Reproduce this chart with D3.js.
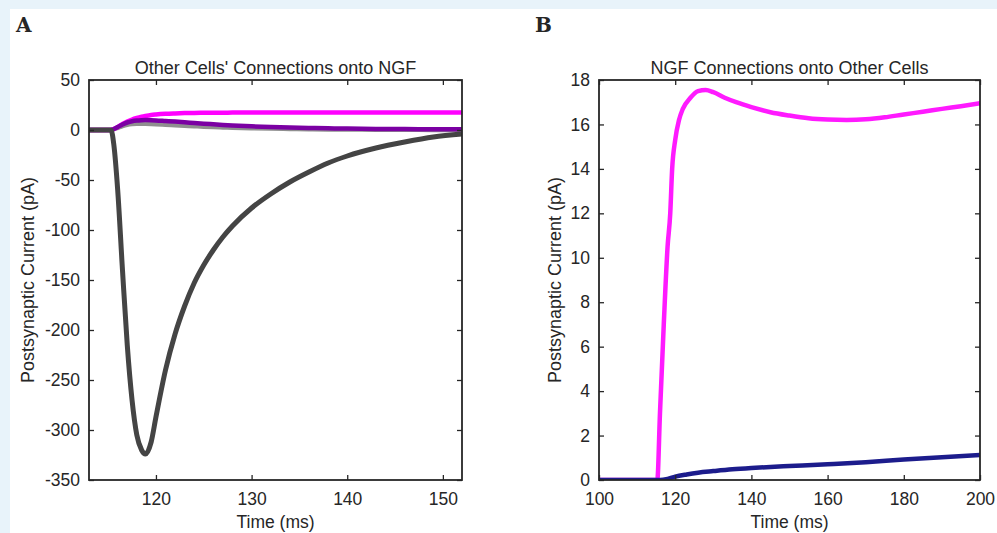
<!DOCTYPE html>
<html><head><meta charset="utf-8">
<script src="https://cdn.jsdelivr.net/npm/d3@7"></script>
<style>
body{margin:0;background:#e8f3fa;}
svg{display:block;}
text{font-family:"Liberation Sans",Arial,sans-serif;fill:#262626;}
</style></head>
<body><svg id="c" width="997" height="533"></svg>
<script>
// ---- Panel A data ----
const tA = [113,115,115.3,115.6,116,116.5,117,117.5,118,118.5,118.9,119.5,120,121,122,123,124,125,126,127,128,130,132,134,136,138,140,143,146,149,152];
const aDarkGray = [0,0,0,-15,-60,-140,-215,-270,-305,-320,-324,-312,-287,-240,-204,-176,-153,-135,-120,-107,-96,-78,-64,-52,-42,-33,-26,-18,-12,-7,-4];
const aMagenta = [0,0,0,1,3,6,8.5,10.5,12,13.2,14,15,15.5,16.2,16.6,16.9,17.1,17.2,17.3,17.3,17.4,17.4,17.4,17.4,17.4,17.4,17.4,17.4,17.4,17.4,17.4];
const aPurple = [0,0,0,1,3,5.5,7.5,8.8,9.5,9.8,9.9,9.8,9.6,9.0,8.4,7.7,7.0,6.3,5.7,5.1,4.6,3.7,3.0,2.4,2.0,1.7,1.4,1.1,0.9,0.8,0.7];
const aLightGray = [0,0,0,0.8,2.2,4,5.3,6,6.3,6.3,6.2,6,5.8,5.3,4.8,4.3,3.8,3.3,2.9,2.6,2.3,1.8,1.4,1.1,0.8,0.6,0.5,0.3,0.2,0.1,0.1];
const yTicksA = [50,0,-50,-100,-150,-200,-250,-300,-350];
const xTicksA = [120,130,140,150];

// ---- Panel B data ----
const tBm = [100,115,115.3,116,117,118,118.7,119.2,120,121,122,124,126,128,130,133,136,140,145,150,155,160,165,170,175,180,185,190,195,200];
const bMagenta = [0,0,0,3,7,10.5,12,14,15.3,16.2,16.7,17.2,17.5,17.55,17.45,17.2,17.0,16.78,16.55,16.4,16.28,16.22,16.2,16.23,16.32,16.45,16.57,16.7,16.82,16.95];
const tBn = [100,110,116,118,120,123,126,130,135,140,145,150,160,170,180,190,200];
const bNavy = [0,0,0,0.05,0.15,0.25,0.33,0.4,0.48,0.54,0.59,0.63,0.71,0.8,0.92,1.02,1.12];
const yTicksB = [0,2,4,6,8,10,12,14,16,18];
const xTicksB = [100,120,140,160,180,200];

const svg = d3.select("#c");
svg.append("rect").attr("x",10).attr("y",9).attr("width",987).attr("height",524).attr("fill","#fff");

function panel(o){
  const g = svg.append("g");
  const x = d3.scaleLinear().domain(o.xd).range([o.x0,o.x1]);
  const y = d3.scaleLinear().domain(o.yd).range([o.y1,o.y0]);
  const cid = "clip"+o.id;
  svg.append("clipPath").attr("id",cid).append("rect")
    .attr("x",o.x0).attr("y",o.y0).attr("width",o.x1-o.x0).attr("height",o.y1-o.y0);
  const lg = g.append("g").attr("clip-path",`url(#${cid})`);
  o.series.forEach(s=>{
    const line = d3.line().x((d,i)=>x(s.t[i])).y(d=>y(d)).curve(d3.curveMonotoneX);
    lg.append("path").attr("d",line(s.v)).attr("fill","none")
      .attr("stroke",s.c).attr("stroke-width",s.w).attr("stroke-linejoin","round");
  });
  const tl = 5;
  const fmt = d => String(d);
  const axB = d3.axisBottom(x).tickValues(o.xt).tickSizeInner(-tl).tickSizeOuter(0).tickPadding(13).tickFormat(fmt);
  const axT = d3.axisTop(x).tickValues(o.xt).tickSizeInner(-tl).tickSizeOuter(0).tickFormat("");
  const axL = d3.axisLeft(y).tickValues(o.yt).tickSizeInner(-tl).tickSizeOuter(0).tickPadding(9).tickFormat(fmt);
  const axR = d3.axisRight(y).tickValues(o.yt).tickSizeInner(-tl).tickSizeOuter(0).tickFormat("");
  const style = sel=>{sel.select(".domain").remove(); sel.selectAll("line").attr("stroke","#262626").attr("stroke-width",1.3);
    sel.selectAll("text").attr("fill","#262626").style("font-family","Liberation Sans, Arial, sans-serif").style("font-size","17.5px");};
  g.append("g").attr("transform",`translate(0,${o.y1})`).call(axB).call(style);
  g.append("g").attr("transform",`translate(0,${o.y0})`).call(axT).call(style);
  g.append("g").attr("transform",`translate(${o.x0},0)`).call(axL).call(style);
  g.append("g").attr("transform",`translate(${o.x1},0)`).call(axR).call(style);
  g.append("rect").attr("x",o.x0).attr("y",o.y0).attr("width",o.x1-o.x0).attr("height",o.y1-o.y0)
    .attr("fill","none").attr("stroke","#262626").attr("stroke-width",1.8);
  g.append("text").attr("x",(o.x0+o.x1)/2).attr("y",o.y0-6).attr("text-anchor","middle").style("font-size","18px").text(o.title);
  g.append("text").attr("x",(o.x0+o.x1)/2).attr("y",528).attr("text-anchor","middle").style("font-size","17.5px").text("Time (ms)");
  g.append("text").attr("transform",`translate(${o.ylx},${(o.y0+o.y1)/2}) rotate(-90)`).attr("text-anchor","middle").style("font-size","18px").text("Postsynaptic Current (pA)");
  g.append("text").attr("x",o.lx).attr("y",32).style("font-family","'DejaVu Serif','Liberation Serif',serif").style("font-weight","bold").style("font-size","20px").attr("fill","#111").text(o.letter);
}

panel({id:"A",x0:89,x1:462,y0:80,y1:480,xd:[113,152],yd:[-350,50],xt:xTicksA,yt:yTicksA,
  title:"Other Cells' Connections onto NGF",ylx:34,lx:16,letter:"A",
  series:[
    {t:tA,v:aLightGray,c:"#8f8f8f",w:4.5},
    {t:tA,v:aMagenta,c:"#ff00ff",w:4.5},
    {t:tA,v:aPurple,c:"#7b00a3",w:4.5},
    {t:tA,v:aDarkGray,c:"#444444",w:5}
  ]});
panel({id:"B",x0:599,x1:980,y0:80,y1:480,xd:[100,200],yd:[0,18],xt:xTicksB,yt:yTicksB,
  title:"NGF Connections onto Other Cells",ylx:561,lx:535,letter:"B",
  series:[
    {t:tBm,v:bMagenta,c:"#ff1aff",w:4.5},
    {t:tBn,v:bNavy,c:"#1c1c8c",w:4.5}
  ]});
</script></body></html>
